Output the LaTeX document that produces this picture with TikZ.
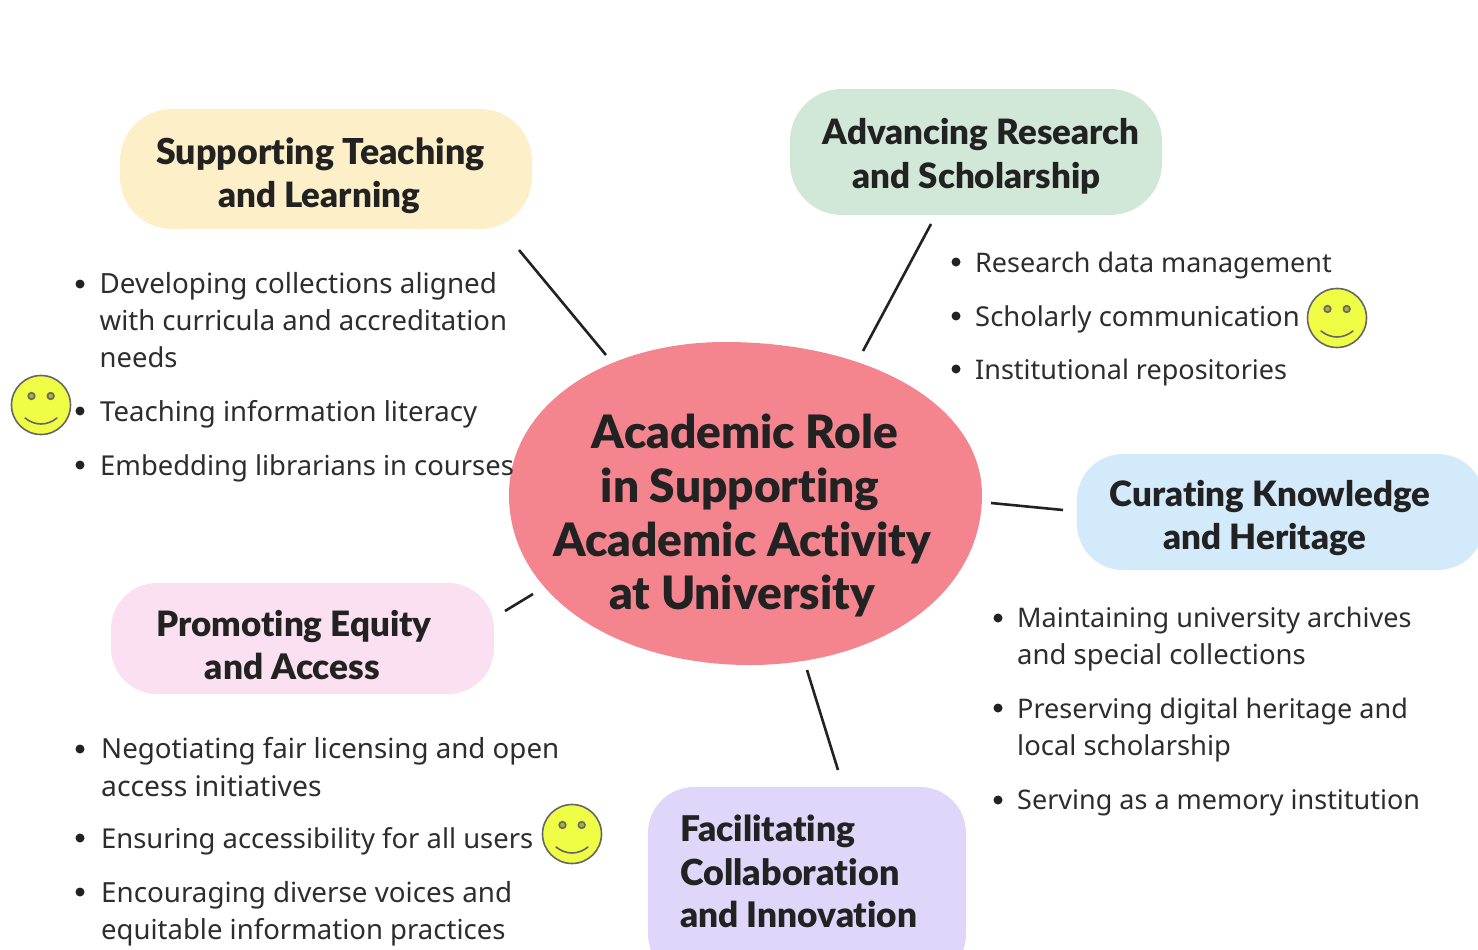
\documentclass[tikz,border=0pt]{standalone}
\usepackage{fontspec}
\setmainfont{Noto Sans}
\newfontfamily\headfont{Lato}[BoldFont={Lato Black},Ligatures=NoCommon]
\definecolor{ink}{HTML}{222222}
\definecolor{cyellow}{HTML}{FDF0C8}
\definecolor{cgreen}{HTML}{D1E8D9}
\definecolor{cblue}{HTML}{D3EAFA}
\definecolor{cpink}{HTML}{FAE0F0}
\definecolor{cpurple}{HTML}{E0D6FA}
\definecolor{cred}{HTML}{F4858F}
\definecolor{csmile}{HTML}{F0FD45}
\tikzset{
  box/.style={fill=#1,draw=none,rounded corners=46pt},
  head/.style={anchor=base,inner sep=0pt,text=ink,font=\headfont\fontsize{#1}{35}\bfseries},
  head/.default=34.9,
  title/.style={anchor=base,inner sep=0pt,text=ink,font=\headfont\fontsize{46}{46}\bfseries},
  body/.style={anchor=base west,inner sep=0pt,text=ink!95,font=\fontsize{#1}{28}\selectfont},
  body/.default=27.4,
  dotb/.style={circle,fill=ink,inner sep=0pt,minimum size=9pt},
  link/.style={draw=ink,line width=2.6pt},
  face/.style={circle,draw=black!60,line width=1.6pt,fill=csmile,minimum size=59pt,inner sep=0pt},
  eye/.style={draw=black!60,line width=1.6pt,fill=csmile!70!black},
  grin/.style={draw=black!60,line width=1.6pt,line cap=round}
}
\newcommand{\smiley}[3]{%
  \node[face] (#1) at (#2,#3) {};
  \draw[eye] (#2-9.5,#3-9) circle (3.3pt);
  \draw[eye] (#2+9.7,#3-9) circle (3.3pt);
  \draw[grin] (#2-16,#3+13) .. controls (#2-6,#3+21) and (#2+6,#3+21) .. (#2+16,#3+13);
}
\begin{document}
\begin{tikzpicture}[x=1pt,y=-1pt]
\useasboundingbox (0,0) rectangle (1478,950);
\fill[white] (0,0) rectangle (1478,950);
% boxes
\fill[box=cyellow,rounded corners=52pt] (120,109) rectangle (532,229);
\fill[box=cgreen,rounded corners=52pt] (790,89) rectangle (1162,215);
\fill[box=cblue] (1077,454) rectangle (1484,570);
\fill[box=cpink] (111,583) rectangle (494,694);
\fill[box=cpurple] (648,787) rectangle (966,980);
% centre
\fill[cred] (509,495) .. controls (509,405) and (605,342) .. (725,342)
  .. controls (870,342) and (982,405) .. (982,495)
  .. controls (982,595) and (880,665) .. (750,665)
  .. controls (615,665) and (509,595) .. (509,495) -- cycle;
\node[title] (t1) at (745,448) {Academic Role};
\node[title] (t2) at (740,502) {in Supporting};
\node[title] (t3) at (742,556) {Academic Activity};
\node[title] (t4) at (742,609) {at University};
% connectors
\coordinate (a1) at (519,250); \coordinate (a2) at (606,355);
\coordinate (b1) at (931,224); \coordinate (b2) at (863,351);
\coordinate (c1) at (991,503); \coordinate (c2) at (1063,510);
\coordinate (d1) at (533,594); \coordinate (d2) at (505,611);
\coordinate (e1) at (807,670); \coordinate (e2) at (838,770);
\draw[link] (a1) -- (a2);
\draw[link] (b1) -- (b2);
\draw[link] (c1) -- (c2);
\draw[link] (d1) -- (d2);
\draw[link] (e1) -- (e2);
% headings
\node[head=35.7] (h1a) at (320.5,164) {Supporting Teaching};
\node[head] (h1b) at (319,207) {and Learning};
\node[head] (h2a) at (981,144) {Advancing Research};
\node[head] (h2b) at (976.5,188) {and Scholarship};
\node[head] (h3a) at (1270,506) {Curating Knowledge};
\node[head] (h3b) at (1265,549) {and Heritage};
\node[head] (h4a) at (294,636) {Promoting Equity};
\node[head=35.2] (h4b) at (292.5,679) {and Access};
\node[head=35.4,anchor=base west] (h5a) at (680,841) {Facilitating};
\node[head=35.9,anchor=base west] (h5b) at (680,885) {Collaboration};
\node[head=35.2,anchor=base west] (h5c) at (680,927) {and Innovation};
% list 1
\node[dotb] (p1) at (80,284) {};
\node[body=27.8] (l1a) at (99.5,293) {Developing collections aligned};
\node[body=27.5] (l1b) at (99.5,330) {with curricula and accreditation};
\node[body] (l1c) at (99.5,367) {needs};
\node[dotb] (p2) at (80,411) {};
\node[body=27.55] (l1d) at (100,421) {Teaching information literacy};
\node[dotb] (p3) at (80,465) {};
\node[body] (l1e) at (100,475) {Embedding librarians in courses};
% list 2
\node[dotb] (p4) at (956,262) {};
\node[body=26.95] (l2a) at (975,272) {Research data management};
\node[dotb] (p5) at (956,316) {};
\node[body] (l2b) at (975,326) {Scholarly communication};
\node[dotb] (p6) at (956,369) {};
\node[body=27] (l2c) at (975,379) {Institutional repositories};
% list 3
\node[dotb] (p7) at (998,618) {};
\node[body=27] (l3a) at (1017,627) {Maintaining university archives};
\node[body=27.5] (l3b) at (1017,664) {and special collections};
\node[dotb] (p8) at (998,708) {};
\node[body=27] (l3c) at (1017,718) {Preserving digital heritage and};
\node[body] (l3d) at (1017,755) {local scholarship};
\node[dotb] (p9) at (998,800) {};
\node[body=27] (l3e) at (1017,809) {Serving as a memory institution};
% list 4
\node[dotb] (p10) at (80,749) {};
\node[body=27.7] (l4a) at (101,758) {Negotiating fair licensing and open};
\node[body=28.3] (l4b) at (101,796) {access initiatives};
\node[dotb] (p11) at (80,838) {};
\node[body] (l4c) at (101,848) {Ensuring accessibility for all users};
\node[dotb] (p12) at (80,892) {};
\node[body=27.75] (l4d) at (101,902) {Encouraging diverse voices and};
\node[body=27.5] (l4e) at (101,939) {equitable information practices};
% smileys
\smiley{s1}{41}{405}
\smiley{s2}{1337}{318}
\smiley{s3}{572}{834}
\end{tikzpicture}
\end{document}
